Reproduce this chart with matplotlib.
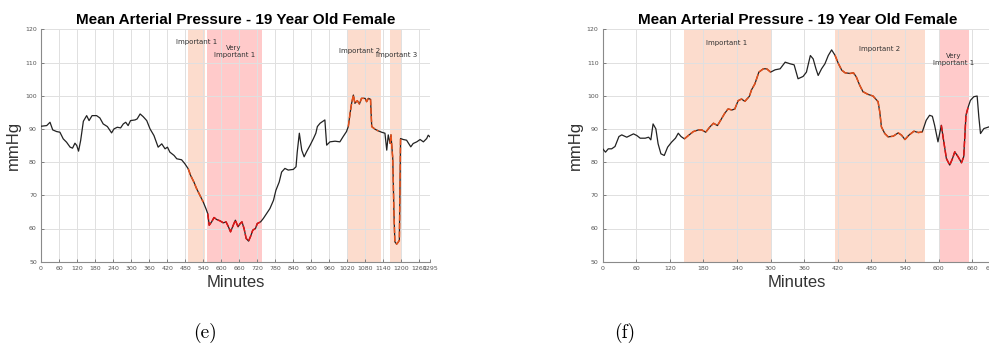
import numpy as np
import matplotlib
matplotlib.use("Agg")
import matplotlib.pyplot as plt

# ---- data ----
left_min = [0, 19, 30, 39, 52, 63, 74, 85, 97, 105, 113, 119, 125, 132, 141, 152, 160, 170, 185, 196,
            207, 221, 235, 243, 254, 265, 274, 282, 290, 298, 313, 320, 330, 340, 352, 363, 376, 390, 402, 413,
            421, 429, 443, 452, 468, 479, 490, 498, 509, 518, 529, 540, 549, 555, 560, 568, 576, 585, 596, 607,
            616, 624, 631, 640, 647, 656, 663, 669, 676, 683, 691, 698, 705, 714, 720, 731, 740, 751, 762, 774,
            782, 793, 801, 812, 823, 840, 849, 853, 860, 868, 876, 884, 896, 907, 915, 920, 929, 945, 951, 962,
            979, 995, 1006, 1017, 1023, 1029, 1034, 1040, 1045, 1053, 1060, 1067, 1079, 1084, 1090, 1097, 1101, 1112, 1123, 1134,
            1145, 1151, 1156, 1162, 1165, 1171, 1175, 1178, 1184, 1190, 1193, 1197, 1206, 1217, 1231, 1239, 1251, 1262, 1273, 1284,
            1289, 1295]
left_map = [90.8, 91, 92, 89.7, 89.2, 89, 87, 86, 84.5, 84.2, 85.7, 85, 83.3, 86.5, 92.3, 94, 92.5, 94, 94, 93.3,
            91.5, 90.7, 88.8, 90, 90.5, 90.3, 91.5, 92, 91, 92.5, 92.7, 93, 94.5, 93.7, 92.5, 90, 88, 84.5, 85.5, 84,
            84.5, 83, 82, 81, 80.7, 79.5, 78, 76, 74, 72, 70, 68, 66, 64.5, 61, 62, 63.3, 62.7, 62.3, 61.7,
            62, 60.5, 59, 61, 62.5, 60.5, 61.5, 62, 60, 57, 56.2, 57.7, 59.5, 60, 61.5, 62, 63, 64.5, 66, 68.5,
            71.5, 74, 77, 78.1, 77.6, 77.8, 78.6, 83, 88.7, 83.6, 81.6, 83.1, 85.1, 87.1, 88.7, 90.7, 91.7, 92.7, 85.1, 86.1,
            86.3, 86.1, 87.7, 89.2, 90.7, 94.7, 97.7, 100.2, 97.7, 98.5, 97.5, 99.2, 99.2, 98.2, 99.2, 98.9, 90.7, 89.9, 89.4, 89,
            88.7, 83.6, 88.2, 85.6, 88.2, 81.1, 64.6, 56, 55.3, 56, 56.5, 87.1, 86.8, 86.6, 84.6, 85.6, 86.1, 86.8, 86.1, 87.1,
            88.1, 87.6]

right_min = [0, 5, 10, 16, 22, 29, 34, 43, 49, 55, 61, 67, 76, 82, 86, 90, 95, 99, 104, 110,
             116, 123, 130, 135, 140, 146, 153, 162, 171, 177, 184, 192, 198, 205, 211, 218, 224, 231, 236, 242,
             248, 254, 262, 266, 272, 279, 287, 293, 300, 308, 317, 326, 335, 342, 349, 358, 364, 371, 376, 381,
             385, 391, 397, 403, 409, 415, 421, 427, 433, 442, 448, 453, 459, 465, 474, 483, 492, 495, 498, 504,
             510, 519, 528, 534, 540, 547, 556, 564, 571, 578, 584, 589, 593, 599, 605, 609, 614, 620, 625, 629,
             635, 641, 645, 649, 653, 657, 663, 669, 672, 675, 681, 690, 695]
right_map = [84, 83, 84, 84, 84.7, 87.7, 88.2, 87.5, 88, 88.5, 88, 87.2, 87.2, 87.5, 86.7, 91.5, 90, 85.5, 82.5, 82,
             84.5, 86, 87.2, 88.7, 87.7, 87, 88, 89.2, 89.7, 89.7, 89, 90.7, 91.7, 91, 92.7, 94.7, 96, 95.7, 96, 98.5,
             99, 98.3, 99.8, 101.8, 103.6, 107.1, 108.1, 108.1, 107.1, 107.8, 108.1, 110.1, 109.6, 109.3, 105.1, 105.8, 107.1, 112.1, 111.1, 108.1,
             106.1, 108.1, 109.6, 112.1, 113.8, 112.2, 109.7, 107.7, 106.9, 106.7, 106.9, 105.7, 103.2, 101.2, 100.4, 99.9, 98.2, 95.1, 90.6, 88.6,
             87.6, 87.8, 88.8, 88.1, 86.8, 88.1, 89.3, 88.9, 89.1, 92.6, 94.1, 93.8, 91.1, 86.1, 91.1, 86.6, 81.1, 79.1, 81.1, 83.1,
             81.6, 79.8, 81.6, 94.1, 96.6, 98.6, 99.7, 99.9, 93.6, 88.6, 90.1, 90.6, 91]

# bands: start, end, label, kind
left_bands = [(490, 545, "Important 1", "imp"),
              (552, 735, "Very\nImportant 1", "very"),
              (1021, 1131, "Important 2", "imp"),
              (1162, 1200, "Important 3", "imp")]
left_label_pos = [(518, 116.3), (643, 113.3), (1062, 113.5), (1185, 112.3)]

right_bands = [(145, 300, "Important 1", "imp"),
               (415, 575, "Important 2", "imp"),
               (600, 655, "Very\nImportant 1", "very")]
right_label_pos = [(221, 116.0), (495, 114.2), (627, 111.0)]

band_color = {"imp": "#fcdccd", "very": "#ffcaca"}
line_color = {"imp": "#e8501a", "very": "#e41414"}

W, H = 989, 353
fig = plt.figure(figsize=(W / 100, H / 100), dpi=100)


def make_panel(rect, t, v, bands, label_pos, xmax):
    ax = fig.add_axes(rect)
    t = np.array(t)
    v = np.array(v)
    for (s, e, lab, kind), (lx, ly) in zip(bands, label_pos):
        ax.axvspan(s, e, color=band_color[kind], lw=0, zorder=1)
        ax.text(lx, ly, lab, fontsize=5, color="#333333", ha="center", va="center",
                linespacing=1.2, zorder=5)
    ax.plot(t, v, color="#222222", lw=0.9, zorder=3)
    for s, e, lab, kind in bands:
        m = (t >= s) & (t <= e)
        ax.plot(t[m], v[m], color=line_color[kind], lw=1.1, dashes=(4, 1.5), zorder=4)
    ax.set_xlim(0, xmax)
    ax.set_ylim(50, 120)
    ticks = list(range(0, xmax - 20, 60)) + [xmax]
    ax.set_xticks(ticks)
    ax.set_yticks(range(50, 121, 10))
    ax.grid(True, color="#e0e0e0", lw=0.7)
    for side in ["top", "right"]:
        ax.spines[side].set_visible(False)
    for side in ["left", "bottom"]:
        ax.spines[side].set_color("#8a8a8a")
        ax.spines[side].set_linewidth(0.8)
    ax.tick_params(labelsize=4.5, colors="#555555", length=2, width=0.5, direction="in", pad=3)
    ax.set_title("Mean Arterial Pressure - 19 Year Old Female", fontsize=11,
                 fontweight="bold", family="Liberation Sans", pad=4)
    ax.set_xlabel("Minutes", fontsize=12, color="#333333", family="Liberation Sans", labelpad=3)
    ax.set_ylabel("mmHg", fontsize=12, color="#333333", family="Liberation Sans", labelpad=3)
    return ax


bottom = (H - 261.7) / H
height = 232.4 / H
ax1 = make_panel([41 / W, bottom, 389 / W, height], left_min, left_map, left_bands, left_label_pos, 1295)
ax2 = make_panel([602.7 / W, bottom, 389 / W, height], right_min, right_map, right_bands, right_label_pos, 695)

fig.text(205 / W, 1 - 333 / H, "(e)", fontsize=14, family="cmr10", ha="center", va="center")
fig.text(625 / W, 1 - 333 / H, "(f)", fontsize=14, family="cmr10", ha="center", va="center")

fig.savefig("out.png", dpi=100)
